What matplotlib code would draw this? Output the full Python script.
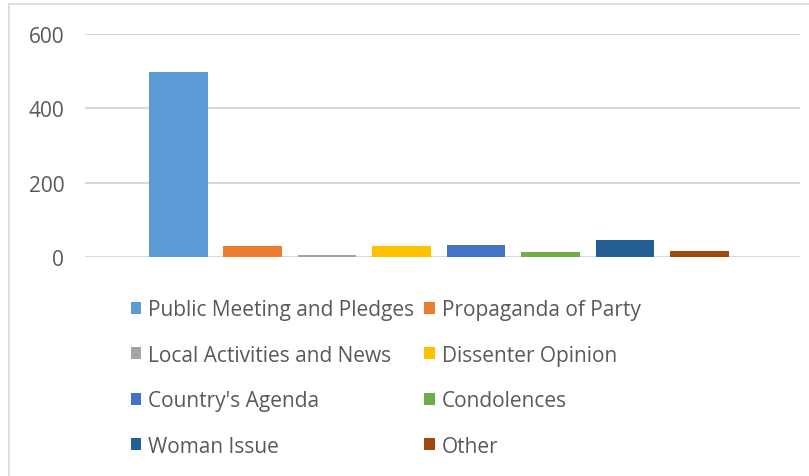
import matplotlib
matplotlib.use("Agg")
import matplotlib.pyplot as plt
from matplotlib.patches import Patch, Rectangle

categories = ["Public Meeting and Pledges", "Propaganda of Party",
              "Local Activities and News", "Dissenter Opinion",
              "Country's Agenda", "Condolences", "Woman Issue", "Other"]
values = [497, 30, 5, 30, 32, 13, 46, 16]
colors = ["#5B9BD5", "#ED7D31", "#A5A5A5", "#FFC000",
          "#4472C4", "#70AD47", "#255E91", "#9E480E"]
yticks = [0, 200, 400, 600]

plt.rcParams["font.family"] = ["Open Sans", "DejaVu Sans"]
txt = "#595959"

W, H = 809, 477
fig = plt.figure(figsize=(W / 100, H / 100), dpi=100)
ax = fig.add_axes([85 / W, 1 - 258 / H, (800 - 85) / W, (258 - 35) / H])

for i, (v, c) in enumerate(zip(values, colors)):
    ax.bar(i, v, width=0.79, color=c, zorder=3)

ax.set_xlim(-1.25, 8.35)
ax.set_ylim(0, 600)
ax.set_yticks(yticks)
ax.set_yticklabels([str(t) for t in yticks], color=txt, fontsize=15)
ax.tick_params(axis="y", length=0, pad=15)
ax.set_xticks([])
ax.grid(axis="y", color="#d9d9d9", linewidth=1.5, zorder=0)
ax.set_axisbelow(True)
for s in ax.spines.values():
    s.set_visible(False)

# chart border (only top and left visible in the crop)
fig.add_artist(Rectangle((9 / W, -0.1), 1.2, 1 - 5 / H + 0.1,
                         transform=fig.transFigure, fill=False,
                         edgecolor="#d9d9d9", linewidth=1.2))

# legend is filled row by row, matplotlib fills columns first
order = [0, 2, 4, 6, 1, 3, 5, 7]
handles = [Patch(facecolor=colors[i], edgecolor="none") for i in order]
labels = [categories[i] for i in order]
leg = fig.legend(handles, labels, ncol=2, loc="upper left",
                 bbox_to_anchor=(131 / W, 1 - 300 / H),
                 frameon=False, fontsize=15, handlelength=0.5,
                 handleheight=0.5, handletextpad=0.33, columnspacing=0.48,
                 labelspacing=1.18, borderaxespad=0, borderpad=0)
for t in leg.get_texts():
    t.set_color(txt)

fig.savefig("out.png", dpi=100)
